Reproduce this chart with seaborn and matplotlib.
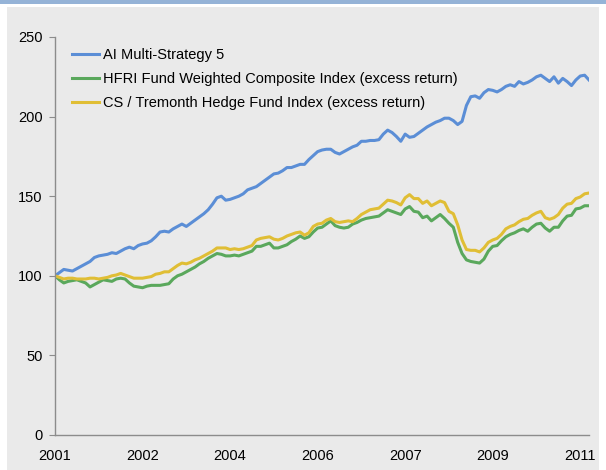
import numpy as np
import pandas as pd
import matplotlib
matplotlib.use("Agg")
import matplotlib.pyplot as plt
from matplotlib.patches import Rectangle
import seaborn as sns

# monthly index levels, Jan 2001 onwards
dates = pd.date_range("2001-01-01", periods=123, freq="MS")

ai_multi = [
    100, 102, 104, 103.5, 103, 104.5, 106, 107.5, 109, 111.5,
    112.5, 113, 113.5, 114.5, 114, 115.5, 117, 118, 117, 119,
    120, 120.5, 122, 124.5, 127.5, 128, 127.5, 129.5, 131, 132.5,
    131, 133, 135, 137, 139, 141.5, 145, 149, 150, 147.5,
    148, 149, 150, 151.5, 154, 155, 156, 158, 160, 162,
    164, 164.5, 166, 168, 168, 169, 170, 170, 173, 175.5,
    178, 179, 179.5, 179.5, 177.5, 176.5, 178, 179.5, 181, 182,
    184.5, 184.5, 185, 185, 185.5, 189, 191.5, 190, 187.5, 184.5,
    189, 187, 187.5, 189.5, 191.5, 193.5, 195, 196.5, 197.5, 199,
    199, 197.5, 195, 197, 207, 212.5, 213, 211.5, 215, 217,
    216.5, 215.5, 217, 219, 220, 219, 222, 220.5, 221.5, 223,
    225, 226, 224, 222, 225, 221, 224, 222, 219.5, 223,
    225.5, 226, 223,
]

hfri = [
    100, 97.5, 95.5, 96.5, 97, 97.5, 96.5, 95.5, 93, 94.5,
    96, 97.5, 97, 96.5, 98, 98.5, 98, 95.5, 93.5, 93,
    92.5, 93.5, 94, 94, 94, 94.5, 95, 98, 100, 101,
    102.5, 104, 105.5, 107.5, 109, 111, 112.5, 114, 113.5, 112.5,
    112.5, 113, 112.5, 113.5, 114.5, 115.5, 118.5, 118.5, 119.5, 120.5,
    117.5, 117.5, 118.5, 119.5, 121.5, 123, 125, 123.5, 124.5, 127.5,
    130, 130.5, 132.5, 134.5, 131.5, 130.5, 130, 130.5, 132.5, 133.5,
    135, 136, 136.5, 137, 137.5, 139.5, 141.5, 140.5, 139.5, 138.5,
    142, 143.5, 140.5, 140, 136.5, 137.5, 134.5, 136.5, 138.5, 136,
    133, 130.5, 121, 114, 110, 109, 108.5, 108, 110.5, 115.5,
    118.5, 119, 122, 124.5, 126, 127, 128.5, 129.5, 128, 130.5,
    132.5, 133, 130, 128, 130.5, 130.5, 134.5, 137.5, 138, 142,
    142.5, 144, 144,
]

cs_tremont = [
    100, 99, 98, 98.5, 98.5, 98, 98, 98, 98.5, 98.5,
    98, 98.5, 99, 100, 100.5, 101.5, 100.5, 99.5, 98.5, 98.5,
    98.5, 99, 99.5, 101, 101.5, 102.5, 102.5, 104.5, 106.5, 108,
    107.5, 108.5, 110, 111, 112.5, 114, 115.5, 117.5, 117.5, 117.5,
    116.5, 117, 116.5, 117, 118, 119, 122.5, 123.5, 124, 124.5,
    123, 122.5, 123.5, 125, 126, 127, 127.5, 125.5, 127, 131,
    132.5, 133, 135, 136, 134, 133.5, 134, 134.5, 134, 136,
    138.5, 140, 141.5, 142, 142.5, 145, 147.5, 147, 146, 144.5,
    149, 151, 148.5, 148.5, 145.5, 147, 144, 145.5, 147, 146,
    140.5, 139, 132, 122.5, 116.5, 116, 116, 115, 117.5, 121,
    122.5, 123.5, 126, 129.5, 131, 132, 134, 135.5, 136, 138,
    139.5, 140.5, 136.5, 135.5, 136.5, 138.5, 142.5, 145, 145.5, 148.5,
    149.5, 151.5, 152,
]

names = [
    "AI Multi-Strategy 5",
    "HFRI Fund Weighted Composite Index (excess return)",
    "CS / Tremonth Hedge Fund Index (excess return)",
]
colors = ["#5B8ED6", "#5AA85C", "#E0BE35"]

df = pd.DataFrame({"pos": np.arange(len(dates)), names[0]: ai_multi,
                   names[1]: hfri, names[2]: cs_tremont})
long_df = df.melt(id_vars="pos", var_name="series", value_name="value")

plt.rcParams["font.family"] = ["Liberation Sans", "DejaVu Sans"]

fig = plt.figure(figsize=(6.06, 4.70), dpi=100, facecolor="white")
# grey panel and blue band on top
fig.patches.append(Rectangle((7 / 606, 0), 592 / 606, 463 / 470, transform=fig.transFigure,
                             facecolor="#EAEAEA", edgecolor="none", zorder=-2))
fig.patches.append(Rectangle((0, 1 - 4 / 470), 1, 4 / 470, transform=fig.transFigure,
                             facecolor="#95B3D7", edgecolor="none", zorder=-1))

ax = fig.add_axes([55 / 606, 35 / 470, 534 / 606, 398 / 470])
ax.set_facecolor("none")

sns.lineplot(data=long_df, x="pos", y="value", hue="series", hue_order=names,
             palette=colors, linewidth=2.2, ax=ax)

ax.set_xlim(0, len(dates) - 1)
ax.set_ylim(0, 250)
ax.set_yticks(range(0, 251, 50))
tick_pos = np.arange(0, len(dates), 20)
ax.set_xticks(tick_pos)
ax.set_xticklabels([str(dates[i].year) for i in tick_pos])
ax.set_xlabel("")
ax.set_ylabel("")

for s in ["top", "right"]:
    ax.spines[s].set_visible(False)
for s in ["left", "bottom"]:
    ax.spines[s].set_color("#8C8C8C")
    ax.spines[s].set_linewidth(1.0)
ax.tick_params(axis="y", length=4, color="#8C8C8C", labelsize=10.5, pad=5)
ax.tick_params(axis="x", length=0, labelsize=10.5, pad=10)

ax.legend(loc="upper left", bbox_to_anchor=(72 / 606, 1 - 48 / 470),
          bbox_transform=fig.transFigure, frameon=False, fontsize=10.5,
          handlelength=1.85, handletextpad=0.25, labelspacing=0.68,
          borderaxespad=0, borderpad=0)

fig.savefig("out.png", dpi=100, facecolor=fig.get_facecolor())
